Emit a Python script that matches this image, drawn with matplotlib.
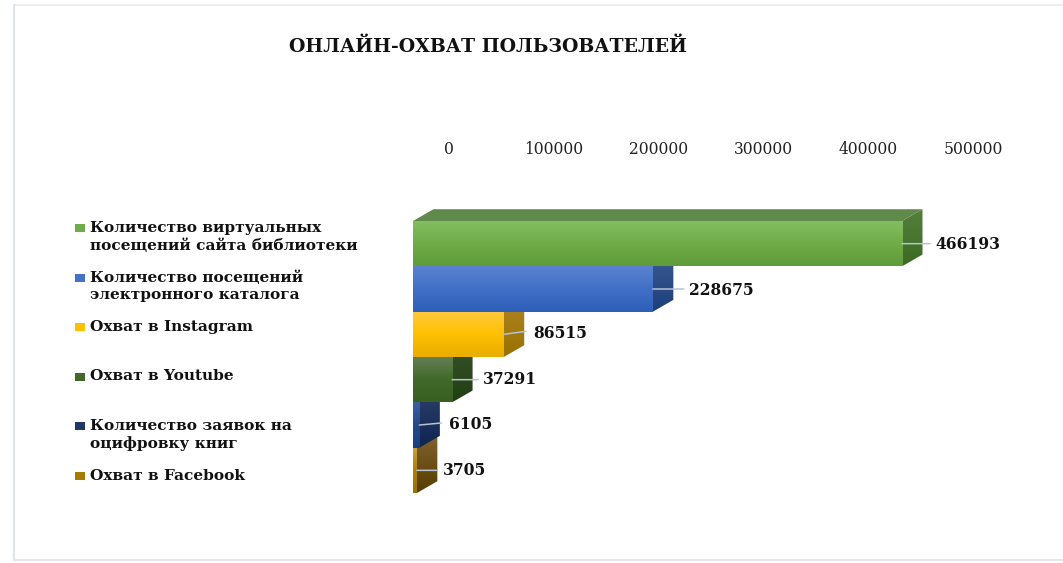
import matplotlib
matplotlib.use("Agg")
import matplotlib.pyplot as plt
import numpy as np
from matplotlib.colors import LinearSegmentedColormap
from matplotlib.lines import Line2D
from matplotlib.patches import Polygon, Rectangle

plt.rcParams["font.family"] = ["DejaVu Serif"]

labels = [
    "Количество виртуальных\nпосещений сайта библиотеки",
    "Количество посещений\nэлектронного каталога",
    "Охват в Instagram",
    "Охват в Youtube",
    "Количество заявок на\nоцифровку книг",
    "Охват в Facebook",
]
values = [466193, 228675, 86515, 37291, 6105, 3705]
ticks = [0, 100000, 200000, 300000, 400000, 500000]

legend_colors = ["#70AD47", "#4472C4", "#FFC000", "#43682B", "#203864", "#A67C00"]
front_colors = [
    ["#84BE63", "#70AD47", "#5F9C3A"],
    ["#5C82D0", "#4070C6", "#2E5FB8"],
    ["#FFC93F", "#FFC000", "#E8AE00"],
    ["#647F56", "#41692A", "#386020"],
    ["#3F5F9F", "#24498A", "#1B3F7C"],
    ["#C9A040", "#B08000", "#9A7000"],
]
side_colors = [
    ["#55803C", "#3C6A22"],
    ["#3B5A92", "#1D3F7A"],
    ["#AE8422", "#997200"],
    ["#35522B", "#223E12"],
    ["#2B3F6B", "#0F2550"],
    ["#80622F", "#573D00"],
]
top_color = "#5F8A4A"

# leader end and text start, px right of the bar end
line_ends = [28, 31, 22, 26, 22, 20]
text_gaps = [33, 36, 29, 31, 30, 26]
line_rise = [0, 0, 3, 0, 2, 0]
text_rise = [-1, -1, 1, 0, 1, 0]

W, H = 1063, 563
DEPTH_X = 19500
DEPTH_Y = 0.26


def gradient(ax, cols, extent, clip=None, z=1):
    cmap = LinearSegmentedColormap.from_list("g", cols)
    im = ax.imshow(
        np.linspace(0, 1, 64).reshape(-1, 1),
        cmap=cmap,
        extent=extent,
        aspect="auto",
        origin="upper",
        zorder=z,
        interpolation="bilinear",
    )
    if clip is not None:
        im.set_clip_path(clip)
        # side faces stick out above the axes box
        im.set_clip_box(ax.figure.bbox)
    return im


fig = plt.figure(figsize=(W / 100, H / 100), dpi=100)
ax = fig.add_axes([413 / W, 1 - 493 / H, 524.5 / W, 272 / H])
ax.set_xlim(0, 500000)
ax.set_ylim(5.5, -0.5)
ax.axis("off")

for i, v in enumerate(values):
    z = 10 + (len(values) - i) * 2
    # side face
    pts = [(v, i - 0.5), (v + DEPTH_X, i - 0.5 - DEPTH_Y), (v + DEPTH_X, i + 0.5 - DEPTH_Y), (v, i + 0.5)]
    side = Polygon(pts, closed=True, fc="none", ec="none", transform=ax.transData, clip_on=False)
    ax.add_patch(side)
    gradient(ax, side_colors[i], [v, v + DEPTH_X, i + 0.5, i - 0.5 - DEPTH_Y], clip=side, z=z)
    # front face
    gradient(ax, front_colors[i], [0, v, i + 0.5, i - 0.5], z=z + 1)
    # leader line and value
    ax.annotate(
        "",
        xy=(v, i),
        xytext=(line_ends[i], line_rise[i]),
        textcoords="offset pixels",
        arrowprops=dict(arrowstyle="-", color="#B4C3D6", lw=1.1, shrinkA=0, shrinkB=0),
        zorder=40,
        annotation_clip=False,
    )
    ax.annotate(
        str(v),
        xy=(v, i),
        xytext=(text_gaps[i], text_rise[i]),
        textcoords="offset pixels",
        ha="left",
        va="center",
        fontsize=11.2,
        fontweight="bold",
        color="#111111",
        zorder=40,
        annotation_clip=False,
    )

# top face of the first bar, the others are hidden
top = Polygon(
    [(0, -0.5), (DEPTH_X, -0.5 - DEPTH_Y), (values[0] + DEPTH_X, -0.5 - DEPTH_Y), (values[0], -0.5)],
    closed=True,
    fc=top_color,
    ec="none",
    zorder=30,
    clip_on=False,
)
ax.add_patch(top)
ax.set_xlim(0, 500000)
ax.set_ylim(5.5, -0.5)

# value axis sits on the back wall, shifted right of the bars
ax_top = fig.add_axes([449 / W, 1 - 493 / H, 524.5 / W, 272 / H])
ax_top.patch.set_alpha(0)
ax_top.set_xlim(0, 500000)
ax_top.set_yticks([])
ax_top.xaxis.tick_top()
ax_top.set_xticks(ticks)
ax_top.set_xticklabels([str(t) for t in ticks], fontsize=11.2, color="#222222")
ax_top.tick_params(axis="x", length=0, pad=45)
for s in ax_top.spines.values():
    s.set_visible(False)

# legend down the left side
for i, lab in enumerate(labels):
    y = 228 + i * 49.5
    fig.add_artist(Rectangle((75 / W, 1 - (y + 4) / H), 10 / W, 8 / H, fc=legend_colors[i], ec="none", transform=fig.transFigure))
    fig.text(
        90 / W,
        1 - (y - 7) / H,
        lab,
        ha="left",
        va="top",
        fontsize=11.1,
        fontweight="bold",
        color="#111111",
        linespacing=1.3,
    )

fig.text(488 / W, 1 - 47 / H, "ОНЛАЙН-ОХВАТ ПОЛЬЗОВАТЕЛЕЙ", ha="center", va="center", fontsize=13.6, fontweight="bold", color="#111111")

# chart frame, open on the right
fig.add_artist(Line2D([14 / W, 14 / W], [1 - 560 / H, 1 - 5 / H], color="#DFE3EA", lw=1.5, transform=fig.transFigure))
fig.add_artist(Line2D([14 / W, 1], [1 - 5 / H, 1 - 5 / H], color="#E6E9EE", lw=1.2, transform=fig.transFigure))
fig.add_artist(Line2D([14 / W, 1], [1 - 560 / H, 1 - 560 / H], color="#DFE3EA", lw=1.2, transform=fig.transFigure))

fig.savefig("out.png", dpi=100)
